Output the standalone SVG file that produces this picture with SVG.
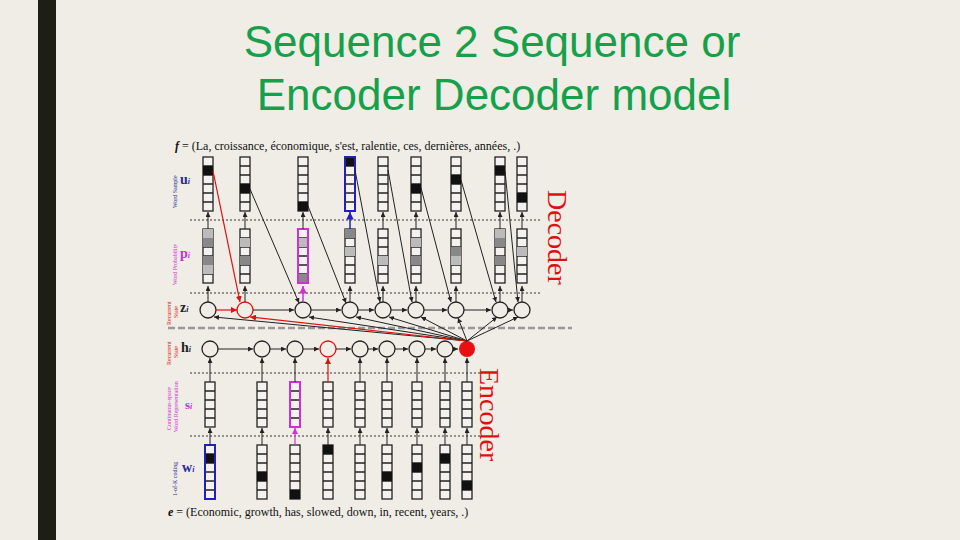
<svg xmlns="http://www.w3.org/2000/svg" xmlns:xlink="http://www.w3.org/1999/xlink" width="960" height="540" viewBox="0 0 960 540">
<style>
.c{fill:none;stroke:#222;stroke-width:1.3}
.l{stroke:#222;stroke-width:1;fill:none}
.r{stroke:#e01010;stroke-width:1.2;fill:none}
.dot{stroke:#333;stroke-width:1;stroke-dasharray:2 2}
.t{font-family:"Liberation Serif",serif;font-size:12px;fill:#111}
.lab{font-family:"Liberation Serif",serif;font-size:6px}
.k{fill:#111}.g1{fill:#888}.g2{fill:#bbb}
</style>
<defs>
<g id="box"><rect x="0" y="0" width="10" height="54" fill="#f4f2ee" stroke="#222" stroke-width="1.3"/><path d="M0 9h10M0 18h10M0 27h10M0 36h10M0 45h10" stroke="#222" stroke-width="1.3"/></g>
<g id="sbox"><rect x="0" y="0" width="10" height="45" fill="#f4f2ee" stroke="#222" stroke-width="1.3"/><path d="M0 9h10M0 18h10M0 27h10M0 36h10" stroke="#222" stroke-width="1.3"/></g>
<marker id="a" viewBox="0 0 6 6" refX="6" refY="3" markerWidth="5" markerHeight="5" orient="auto"><path d="M0 0L6 3L0 6z" fill="#222"/></marker>
<marker id="ar" viewBox="0 0 6 6" refX="6" refY="3" markerWidth="5" markerHeight="5" orient="auto"><path d="M0 0L6 3L0 6z" fill="#e01010"/></marker>
<marker id="am" viewBox="0 0 6 6" refX="6" refY="3" markerWidth="5" markerHeight="5" orient="auto"><path d="M0 0L6 3L0 6z" fill="#d030d0"/></marker>
<marker id="ab" viewBox="0 0 6 6" refX="6" refY="3" markerWidth="5" markerHeight="5" orient="auto"><path d="M0 0L6 3L0 6z" fill="#2020c0"/></marker>
</defs>
<rect width="960" height="540" fill="#efede6"/>
<rect x="38" y="0" width="18" height="540" fill="#1e1f14"/>
<text x="492" y="57" text-anchor="middle" font-family="Liberation Sans,Arial,sans-serif" font-size="44" fill="#16a04a">Sequence 2 Sequence or</text>
<text x="494" y="110" text-anchor="middle" font-family="Liberation Sans,Arial,sans-serif" font-size="44" fill="#16a04a">Encoder Decoder model</text>
<text class="t" x="175" y="150"><tspan font-style="italic" font-weight="bold">f</tspan> = (La, croissance, économique, s'est, ralentie, ces, dernières, années, .)</text>
<text class="t" x="168" y="516"><tspan font-style="italic" font-weight="bold">e</tspan> = (Economic, growth, has, slowed, down, in, recent, years, .)</text>
<text x="548" y="190" transform="rotate(90 548 190)" font-family="Liberation Serif,serif" font-size="28" fill="#e01010">Decoder</text>
<text x="480" y="368" transform="rotate(90 480 368)" font-family="Liberation Serif,serif" font-size="28" fill="#e01010">Encoder</text>
<g id="labels" font-family="Liberation Serif,serif" font-weight="bold">
<text x="180" y="184" font-size="14" fill="#2a2aa0">u<tspan font-size="8" font-style="italic">i</tspan></text>
<text x="180" y="258" font-size="14" fill="#d030d0">p<tspan font-size="8" font-style="italic">i</tspan></text>
<text x="180" y="312" font-size="14" fill="#222">z<tspan font-size="8" font-style="italic">i</tspan></text>
<text x="181" y="352" font-size="14" fill="#222">h<tspan font-size="8" font-style="italic">i</tspan></text>
<text x="185" y="409" font-size="13" fill="#d030d0">s<tspan font-size="8" font-style="italic">i</tspan></text>
<text x="182" y="472" font-size="14" fill="#2a2aa0">w<tspan font-size="8" font-style="italic">i</tspan></text>
</g>
<g class="lab" font-weight="normal">
<text transform="translate(177 208) rotate(-90)" fill="#2a2aa0">Word Sample</text>
<text transform="translate(177 285) rotate(-90)" fill="#d030d0">Word Probability</text>
<text transform="translate(171 325) rotate(-90)" fill="#e01010">Recurrent</text>
<text transform="translate(178 318) rotate(-90)" fill="#e01010">State</text>
<text transform="translate(171 365) rotate(-90)" fill="#e01010">Recurrent</text>
<text transform="translate(178 358) rotate(-90)" fill="#e01010">State</text>
<text transform="translate(171 430) rotate(-90)" fill="#d030d0">Continuous-space</text>
<text transform="translate(178 432) rotate(-90)" fill="#d030d0">Word Representation</text>
<text transform="translate(177 496) rotate(-90)" fill="#2a2aa0">1-of-K coding</text>
</g>
<g id="guides">
<line class="dot" x1="190" y1="220" x2="540" y2="220"/>
<line class="dot" x1="190" y1="293" x2="540" y2="293"/>
<line x1="168" y1="328" x2="572" y2="328" stroke="#999" stroke-width="2.5" stroke-dasharray="7 3"/>
<line class="dot" x1="190" y1="373" x2="480" y2="373"/>
<line class="dot" x1="190" y1="436" x2="480" y2="436"/>
</g>
<g id="decoder">
<use href="#box" x="203" y="157"/><rect class="k" x="203" y="166" width="10" height="9"/>
<use href="#box" x="240" y="157"/><rect class="k" x="240" y="184" width="10" height="9"/>
<use href="#box" x="298" y="157"/><rect class="k" x="298" y="202" width="10" height="9"/>
<use href="#box" x="345" y="157"/><rect class="k" x="345" y="157" width="10" height="9"/><rect x="345" y="157" width="10" height="54" fill="none" stroke="#2020c0" stroke-width="2"/>
<use href="#box" x="378" y="157"/>
<use href="#box" x="411" y="157"/><rect class="k" x="411" y="184" width="10" height="9"/>
<use href="#box" x="451" y="157"/><rect class="k" x="451" y="175" width="10" height="9"/>
<use href="#box" x="495" y="157"/><rect class="k" x="495" y="166" width="10" height="9"/>
<use href="#box" x="517" y="157"/><rect class="k" x="517" y="193" width="10" height="9"/>
<use href="#box" x="203" y="229"/><rect class="g1" x="203" y="238" width="10" height="9"/><rect class="g1" x="203" y="256" width="10" height="9"/><rect class="g2" x="203" y="229" width="10" height="9"/><rect class="g2" x="203" y="265" width="10" height="9"/>
<use href="#box" x="240" y="229"/><rect class="g1" x="240" y="256" width="10" height="9"/><rect class="g2" x="240" y="238" width="10" height="9"/>
<use href="#box" x="298" y="229"/><rect class="g1" x="298" y="274" width="10" height="9"/><rect class="g2" x="298" y="238" width="10" height="9"/><rect x="298" y="229" width="10" height="54" fill="none" stroke="#d030d0" stroke-width="2"/>
<use href="#box" x="345" y="229"/><rect class="g1" x="345" y="229" width="10" height="9"/><rect class="g2" x="345" y="247" width="10" height="9"/>
<use href="#box" x="378" y="229"/><rect class="g2" x="378" y="256" width="10" height="9"/>
<use href="#box" x="411" y="229"/><rect class="g1" x="411" y="256" width="10" height="9"/><rect class="g2" x="411" y="238" width="10" height="9"/>
<use href="#box" x="451" y="229"/><rect class="g1" x="451" y="247" width="10" height="9"/><rect class="g2" x="451" y="256" width="10" height="9"/>
<use href="#box" x="495" y="229"/><rect class="g1" x="495" y="238" width="10" height="9"/><rect class="g1" x="495" y="256" width="10" height="9"/><rect class="g2" x="495" y="229" width="10" height="9"/>
<use href="#box" x="517" y="229"/><rect class="g2" x="517" y="247" width="10" height="9"/>
<g class="c" fill="#f4f2ee">
<circle cx="208" cy="310" r="8"/><circle cx="245" cy="310" r="8" stroke="#e01010"/><circle cx="303" cy="310" r="8"/><circle cx="350" cy="310" r="8"/><circle cx="383" cy="310" r="8"/><circle cx="416" cy="310" r="8"/><circle cx="456" cy="310" r="8"/><circle cx="500" cy="310" r="8"/><circle cx="522" cy="310" r="8"/>
</g>
</g>
<g id="encoder">
<g class="c">
<circle cx="210" cy="349" r="8"/><circle cx="262" cy="349" r="8"/><circle cx="295" cy="349" r="8"/><circle cx="328" cy="349" r="8" stroke="#e01010"/><circle cx="360" cy="349" r="8"/><circle cx="387" cy="349" r="8"/><circle cx="417" cy="349" r="8"/><circle cx="445" cy="349" r="8"/>
</g>
<circle cx="467" cy="349" r="8" fill="#e81010"/>
<use href="#sbox" x="205" y="382"/><use href="#sbox" x="257" y="382"/><use href="#sbox" x="290" y="382"/><rect x="290" y="382" width="10" height="45" fill="none" stroke="#d030d0" stroke-width="2"/>
<use href="#sbox" x="323" y="382"/><use href="#sbox" x="355" y="382"/><use href="#sbox" x="382" y="382"/><use href="#sbox" x="412" y="382"/><use href="#sbox" x="440" y="382"/><use href="#sbox" x="462" y="382"/>
<use href="#box" x="205" y="445"/><rect class="k" x="205" y="454" width="10" height="9"/><rect x="205" y="445" width="10" height="54" fill="none" stroke="#2020c0" stroke-width="2"/>
<use href="#box" x="257" y="445"/><rect class="k" x="257" y="472" width="10" height="9"/>
<use href="#box" x="290" y="445"/><rect class="k" x="290" y="490" width="10" height="9"/>
<use href="#box" x="323" y="445"/><rect class="k" x="323" y="445" width="10" height="9"/>
<use href="#box" x="355" y="445"/>
<use href="#box" x="382" y="445"/><rect class="k" x="382" y="472" width="10" height="9"/>
<use href="#box" x="412" y="445"/><rect class="k" x="412" y="463" width="10" height="9"/>
<use href="#box" x="440" y="445"/><rect class="k" x="440" y="454" width="10" height="9"/>
<use href="#box" x="462" y="445"/><rect class="k" x="462" y="481" width="10" height="9"/>
</g>
<g id="connectors">
<g class="l" marker-end="url(#a)">
<line x1="208" y1="302" x2="208" y2="286"/><line x1="245" y1="302" x2="245" y2="286"/><line x1="350" y1="302" x2="350" y2="286"/><line x1="383" y1="302" x2="383" y2="286"/><line x1="416" y1="302" x2="416" y2="286"/><line x1="456" y1="302" x2="456" y2="286"/><line x1="500" y1="302" x2="500" y2="286"/><line x1="522" y1="302" x2="522" y2="286"/>
<line x1="208" y1="229" x2="208" y2="212"/><line x1="245" y1="229" x2="245" y2="212"/><line x1="303" y1="229" x2="303" y2="212"/><line x1="383" y1="229" x2="383" y2="212"/><line x1="416" y1="229" x2="416" y2="212"/><line x1="456" y1="229" x2="456" y2="212"/><line x1="500" y1="229" x2="500" y2="212"/><line x1="522" y1="229" x2="522" y2="212"/>
<line x1="210" y1="445" x2="210" y2="428"/><line x1="262" y1="445" x2="262" y2="428"/><line x1="328" y1="445" x2="328" y2="428"/><line x1="360" y1="445" x2="360" y2="428"/><line x1="387" y1="445" x2="387" y2="428"/><line x1="417" y1="445" x2="417" y2="428"/><line x1="445" y1="445" x2="445" y2="428"/><line x1="467" y1="445" x2="467" y2="428"/>
<line x1="210" y1="382" x2="210" y2="358"/><line x1="262" y1="382" x2="262" y2="358"/><line x1="295" y1="382" x2="295" y2="358"/><line x1="360" y1="382" x2="360" y2="358"/><line x1="387" y1="382" x2="387" y2="358"/><line x1="417" y1="382" x2="417" y2="358"/><line x1="445" y1="382" x2="445" y2="358"/><line x1="467" y1="382" x2="467" y2="358"/>
<line x1="218" y1="349" x2="253" y2="349"/><line x1="270" y1="349" x2="286" y2="349"/><line x1="303" y1="349" x2="319" y2="349"/><line x1="336" y1="349" x2="351" y2="349"/><line x1="368" y1="349" x2="378" y2="349"/><line x1="395" y1="349" x2="408" y2="349"/><line x1="425" y1="349" x2="436" y2="349"/><line x1="453" y1="349" x2="458" y2="349"/>
<line x1="253" y1="310" x2="294" y2="310"/><line x1="311" y1="310" x2="341" y2="310"/><line x1="358" y1="310" x2="374" y2="310"/><line x1="391" y1="310" x2="407" y2="310"/><line x1="424" y1="310" x2="447" y2="310"/><line x1="464" y1="310" x2="491" y2="310"/><line x1="508" y1="310" x2="513" y2="310"/>
<line x1="250" y1="189" x2="299" y2="303"/>
<line x1="308" y1="206" x2="346" y2="303"/>
<line x1="355" y1="170" x2="380" y2="302"/>
<line x1="388" y1="170" x2="412" y2="302"/>
<line x1="421" y1="188" x2="451" y2="302"/>
<line x1="461" y1="180" x2="496" y2="302"/>
<line x1="505" y1="171" x2="518" y2="302"/>
<line x1="467" y1="341" x2="214" y2="317"/>
<line x1="467" y1="341" x2="309" y2="317"/>
<line x1="467" y1="341" x2="356" y2="317"/>
<line x1="467" y1="341" x2="389" y2="317"/>
<line x1="467" y1="341" x2="421" y2="317"/>
<line x1="467" y1="341" x2="458" y2="318"/>
<line x1="467" y1="341" x2="497" y2="317"/>
<line x1="467" y1="341" x2="518" y2="317"/>
</g>
<line x1="303" y1="302" x2="303" y2="286" stroke="#d030d0" stroke-width="1.5" marker-end="url(#am)"/>
<line x1="350" y1="229" x2="350" y2="212" stroke="#2020c0" stroke-width="1.5" marker-end="url(#ab)"/>
<line x1="295" y1="445" x2="295" y2="428" stroke="#d030d0" stroke-width="1.2" marker-end="url(#am)"/>
<line x1="328" y1="382" x2="328" y2="358" stroke="#e01010" stroke-width="1.2" marker-end="url(#ar)"/>
<g class="r" marker-end="url(#ar)">
<line x1="213" y1="171" x2="240" y2="302"/>
<line x1="216" y1="310" x2="237" y2="310"/>
<line x1="467" y1="341" x2="250" y2="317"/>
</g>
</g>
</svg>
